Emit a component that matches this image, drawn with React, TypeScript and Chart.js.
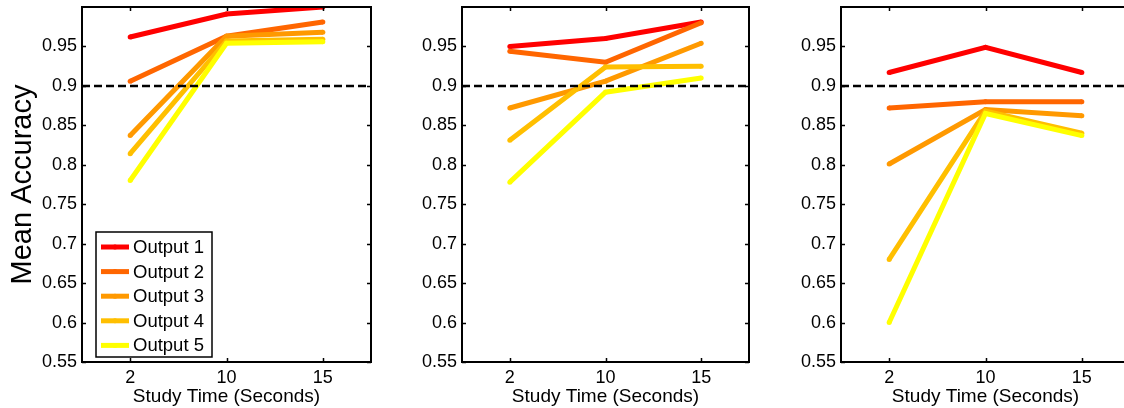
import React, { useEffect, useRef } from "react";
import { Chart, registerables } from "chart.js";

Chart.register(...registerables);

// ---- data ----
const studyTimes = ["2", "10", "15"];
const seriesNames = ["Output 1", "Output 2", "Output 3", "Output 4", "Output 5"];
const seriesColors = ["#ff0000", "#ff6600", "#ff9900", "#ffbf00", "#ffff00"];
const yTickValues = [0.55, 0.6, 0.65, 0.7, 0.75, 0.8, 0.85, 0.9, 0.95];
const yTickLabels = ["0.55", "0.6", "0.65", "0.7", "0.75", "0.8", "0.85", "0.9", "0.95"];
const thresholdValue = 0.9;

const panel1Values = [
  [0.962, 0.991, 1.0],
  [0.906, 0.963, 0.981],
  [0.837, 0.963, 0.968],
  [0.814, 0.957, 0.959],
  [0.78, 0.954, 0.956],
];
const panel2Values = [
  [0.95, 0.96, 0.981],
  [0.944, 0.93, 0.98],
  [0.872, 0.906, 0.954],
  [0.831, 0.924, 0.925],
  [0.778, 0.892, 0.91],
];
const panel3Values = [
  [0.917, 0.949, 0.917],
  [0.872, 0.88, 0.88],
  [0.801, 0.87, 0.862],
  [0.68, 0.868, 0.84],
  [0.6, 0.865, 0.837],
];

const FONT = "'Liberation Sans', Arial, Helvetica, sans-serif";

const framePlugin = {
  id: "frame",
  afterDraw(chart: any) {
    const { ctx, chartArea: ca } = chart;
    const xs = chart.scales.x;
    const ys = chart.scales.y;
    ctx.save();
    ctx.strokeStyle = "#000";
    ctx.lineWidth = 1.5;
    const tl = 4;
    ctx.beginPath();
    ys.ticks.forEach((t: any) => {
      const y = Math.round(ys.getPixelForValue(t.value)) + 0.5;
      ctx.moveTo(ca.left, y);
      ctx.lineTo(ca.left + tl, y);
      ctx.moveTo(ca.right, y);
      ctx.lineTo(ca.right - tl, y);
    });
    xs.ticks.forEach((t: any) => {
      const x = Math.round(xs.getPixelForValue(t.value)) + 0.5;
      ctx.moveTo(x, ca.bottom);
      ctx.lineTo(x, ca.bottom - tl);
      ctx.moveTo(x, ca.top);
      ctx.lineTo(x, ca.top + tl);
    });
    ctx.stroke();
    ctx.lineWidth = 2;
    ctx.strokeRect(ca.left, ca.top, ca.right - ca.left, ca.bottom - ca.top);

    const lg = chart.options.plugins.frame && chart.options.plugins.frame.legend;
    if (lg) {
      const bx = ca.left + 14;
      const bw = 116;
      const bh = 125;
      const by = ca.bottom - 5 - bh;
      ctx.fillStyle = "#fff";
      ctx.fillRect(bx, by, bw, bh);
      ctx.lineWidth = 1.5;
      ctx.strokeStyle = "#000";
      ctx.strokeRect(bx, by, bw, bh);
      ctx.font = "18.5px " + FONT;
      ctx.textBaseline = "middle";
      ctx.textAlign = "left";
      seriesNames.forEach((name, i) => {
        const y = by + 15 + i * 24.6;
        ctx.strokeStyle = seriesColors[i];
        ctx.lineWidth = 5;
        ctx.beginPath();
        ctx.moveTo(bx + 5, y);
        ctx.lineTo(bx + 33, y);
        ctx.stroke();
        ctx.fillStyle = seriesColors[i];
        ctx.beginPath();
        ctx.arc(bx + 19, y, 2.5, 0, Math.PI * 2);
        ctx.fill();
        ctx.fillStyle = "#000";
        ctx.fillText(name, bx + 37, y + 1);
      });
    }
    ctx.restore();
  },
};

function Panel(props: {
  values: number[][];
  left: number;
  width: number;
  yTitle: boolean;
  legend: boolean;
  padRight: number;
}) {
  const ref = useRef<HTMLCanvasElement>(null);
  useEffect(() => {
    const datasets: any[] = props.values.map((vals, i) => ({
      label: seriesNames[i],
      data: vals.map((v, j) => ({ x: j + 1, y: v })),
      borderColor: seriesColors[i],
      backgroundColor: seriesColors[i],
      borderWidth: 5,
      pointRadius: 2.5,
      pointBorderWidth: 0,
      order: 10 - i,
    }));
    datasets.push({
      label: "threshold",
      data: [
        { x: 0.5, y: thresholdValue },
        { x: 3.5, y: thresholdValue },
      ],
      borderColor: "#000",
      borderWidth: 2.5,
      borderDash: [8, 4],
      pointRadius: 0,
      order: 0,
    });
    const chart = new Chart(ref.current as HTMLCanvasElement, {
      type: "line",
      data: { datasets },
      plugins: [framePlugin],
      options: {
        animation: false,
        responsive: false,
        maintainAspectRatio: false,
        layout: { padding: { top: 7, right: props.padRight, bottom: 0, left: 0 } },
        plugins: {
          legend: { display: false },
          tooltip: { enabled: false },
          frame: { legend: props.legend },
        } as any,
        scales: {
          x: {
            type: "linear",
            min: 0.5,
            max: 3.5,
            afterBuildTicks: (s: any) => {
              s.ticks = studyTimes.map((_, i) => ({ value: i + 1 }));
            },
            afterFit: (s: any) => {
              s.height = 46;
              s.paddingLeft = 0;
              s.paddingRight = 0;
            },
            grid: { display: false, drawTicks: false, tickLength: 0 },
            border: { display: false },
            ticks: {
              padding: 5,
              color: "#000",
              font: { size: 18, family: FONT },
              callback: (v: any) => studyTimes[Math.round(v) - 1],
              maxRotation: 0,
            },
            title: {
              display: true,
              text: "Study Time (Seconds)",
              color: "#000",
              font: { size: 19, family: FONT },
              padding: { top: 0, bottom: 0 },
            },
          },
          y: {
            type: "linear",
            min: 0.55,
            max: 1.0,
            afterBuildTicks: (s: any) => {
              s.ticks = yTickValues.map((v) => ({ value: v }));
            },
            afterFit: (s: any) => {
              s.width = 82;
              s.paddingTop = 0;
              s.paddingBottom = 0;
            },
            grid: { display: false, drawTicks: false, tickLength: 0 },
            border: { display: false },
            ticks: {
              padding: 5,
              color: "#000",
              font: { size: 18, family: FONT },
              callback: (v: any) => {
                const idx = yTickValues.findIndex((t) => Math.abs(t - v) < 1e-6);
                return idx >= 0 ? yTickLabels[idx] : "";
              },
            },
            title: {
              display: props.yTitle,
              text: "Mean Accuracy",
              color: "#000",
              font: { size: 29, family: FONT },
              padding: { top: 6, bottom: 0 },
            },
          },
        },
      } as any,
    });
    return () => chart.destroy();
  }, []);
  return (
    <canvas
      ref={ref}
      width={props.width}
      height={408}
      style={{ position: "absolute", left: props.left, top: 0, width: props.width, height: 408 }}
    />
  );
}

export default function App() {
  return (
    <div
      style={{
        position: "fixed",
        left: 0,
        top: 0,
        width: 1124,
        height: 408,
        overflow: "hidden",
        background: "#fff",
      }}
    >
      <Panel values={panel1Values} left={0} width={380} yTitle={true} legend={true} padRight={9} />
      <Panel values={panel2Values} left={380} width={380} yTitle={false} legend={false} padRight={11} />
      <Panel values={panel3Values} left={759} width={380} yTitle={false} legend={false} padRight={9} />
    </div>
  );
}
